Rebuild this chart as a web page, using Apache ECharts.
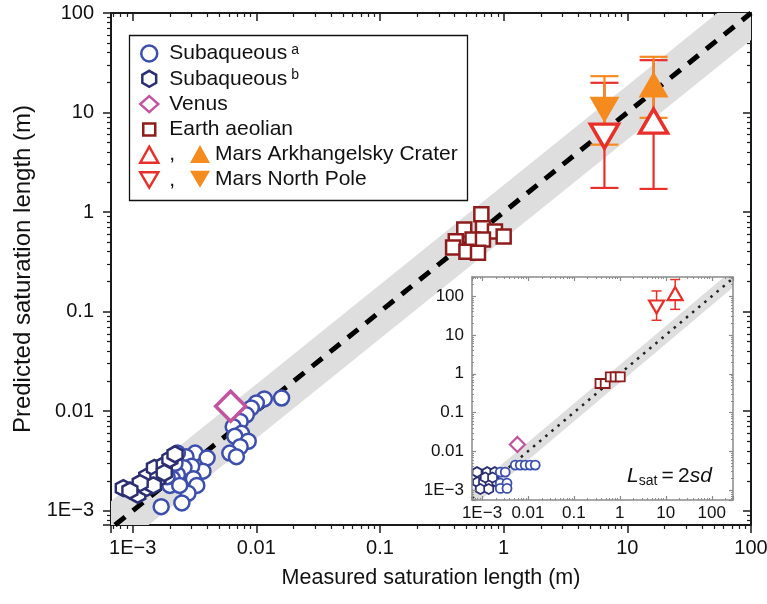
<!DOCTYPE html>
<html><head><meta charset="utf-8">
<script src="https://cdn.jsdelivr.net/npm/echarts@6/dist/echarts.min.js"></script>
<style>html,body{margin:0;padding:0;background:#fff}#c{width:767px;height:604px}</style>
</head><body><div id="c"></div>
<script>
// ---------------- data ----------------
const tickLabels = ['1E\u22123', '0.01', '0.1', '1', '10', '100'];
const tickExps = [-3, -2, -1, 0, 1, 2];

const subaqueousA = [[0.016,0.0136],[0.0116,0.0133],[0.0100,0.0121],[0.0091,0.0108],[0.0083,0.0092],[0.0074,0.0079],[0.0065,0.0070],[0.0076,0.0060],[0.0067,0.0056],[0.0086,0.0050],[0.0074,0.0044],[0.0061,0.0038],[0.0069,0.0035],
  [0.0032,0.0038],[0.0040,0.0034],[0.0027,0.0035],[0.0023,0.0038],[0.0037,0.0025],[0.0030,0.0028],[0.0026,0.0027],[0.0023,0.0023],[0.0031,0.0021],[0.0033,0.0018],[0.0028,0.0015],[0.0025,0.0012],[0.0017,0.0011],[0.0021,0.0021],[0.0020,0.0018],[0.0024,0.0018],[0.0022,0.0030],[0.0019,0.0022]];
const subaqueousB = [[0.00084,0.00169],[0.0011,0.00145],[0.0013,0.0017],[0.0013,0.0022],[0.0015,0.0027],[0.0016,0.0021],[0.0018,0.0029],[0.0020,0.0033],[0.0022,0.0037],[0.00147,0.0018],[0.00115,0.0019],[0.0018,0.0024],[0.00095,0.0016]];
const venus = [[0.0062,0.0112]];
const earthAeolian = [[0.66,0.95],[0.48,0.67],[0.68,0.69],[0.85,0.64],[1.0,0.57],[0.41,0.51],[0.56,0.53],[0.68,0.53],[0.39,0.44],[0.50,0.40],[0.62,0.39]];
const arkOpen = [[16.3,8.2]];
const arkFilled = [[16.3,19.1]];
const npOpen = [[6.53,5.8]];
const npFilled = [[6.53,10.7]];
// [x, low, high]
const arkOpenErr = [[16.3,1.71,33.6]];
const arkFilledErr = [[16.3,8.85,36.3]];
const npOpenErr = [[6.53,1.75,19.9]];
const npFilledErr = [[6.53,4.76,23.2]];

// inset (L_sat = 2sd)
const insetSubA = [[0.0025,0.0029],[0.0032,0.0029],[0.0025,0.0015],[0.0035,0.0015],[0.0025,0.0011],[0.0035,0.0011],[0.0053,0.0044],[0.0068,0.0044],[0.0087,0.0044],[0.0112,0.0044],[0.0144,0.0044]];
const insetSubB = [[0.00078,0.0029],[0.0013,0.0029],[0.0019,0.0029],[0.0008,0.0016],[0.00108,0.0016],[0.0015,0.0016],[0.0021,0.0016],[0.00092,0.00106],[0.0014,0.00106],[0.00118,0.0021],[0.0017,0.0021]];
const insetVenus = [[0.0059,0.015]];
const insetEarth = [[0.37,0.56],[0.48,0.56],[0.62,0.83],[0.79,0.83],[1.02,0.83]];
const insetArk = [[16,117]];
const insetNP = [[6.3,53]];
const insetArkErr = [[16,46,270]];
const insetNPErr = [[6.3,24,137]];

// ---------------- setup ----------------
const MX = [6.68e-4, 100], MY = [7.2e-4, 100];
const IX = [6.06e-4, 290], IY = [5.52e-4, 314];
const BAND_MAIN = 1.87, BAND_INSET = 1.7;

const C = {blue:'#3d4fad', navy:'#2b2e70', venus:'#c2549f', earth:'#8e1c1c', red:'#e8302a', orange:'#f58b1f', band:'#dedede'};
const FONT = "'Liberation Sans', Arial, Helvetica, sans-serif";
const HEX = 'path://M5,0L9.33,2.5L9.33,7.5L5,10L0.67,7.5L0.67,2.5Z';
const DOWN = 'path://M0,0L20,0L10,17Z';

function fmt(v) {
  const l = Math.log10(v), r = Math.round(l);
  if (Math.abs(l - r) > 1e-6) return '';
  const i = tickExps.indexOf(r);
  return i < 0 ? '' : tickLabels[i];
}
function bandPoly(X, Y, k) {
  return [[X[0], Y[0]], [X[0], X[0]*k], [Y[1]/k, Y[1]], [X[1], Y[1]], [X[1], X[1]/k], [Y[0]*k, Y[0]]];
}
function bandSeries(xi, yi, pts, z) {
  return {type:'custom', xAxisIndex:xi, yAxisIndex:yi, z, silent:true, data:[[1,1]],
    renderItem:(p, api) => ({type:'polygon', shape:{points: pts.map(q => api.coord(q))}, style:{fill:C.band}})};
}
function errSeries(data, color, xi, yi, cap, lw, z) {
  return {type:'custom', xAxisIndex:xi, yAxisIndex:yi, z, silent:true, data, encode:{x:0, y:[1,2]},
    renderItem(p, api) {
      const x = api.value(0), a = api.coord([x, api.value(1)]), b = api.coord([x, api.value(2)]), h = cap/2;
      const st = {stroke:color, lineWidth:lw};
      return {type:'group', children:[
        {type:'line', shape:{x1:a[0], y1:a[1], x2:b[0], y2:b[1]}, style:st},
        {type:'line', shape:{x1:a[0]-h, y1:a[1], x2:a[0]+h, y2:a[1]}, style:st},
        {type:'line', shape:{x1:b[0]-h, y1:b[1], x2:b[0]+h, y2:b[1]}, style:st}]};
    }};
}
function sc(name, data, symbol, size, fill, stroke, bw, xi, yi, z) {
  return {type:'scatter', name, data, symbol, symbolSize:size, xAxisIndex:xi, yAxisIndex:yi, z, silent:true,
    itemStyle:{color:fill, borderColor:stroke, borderWidth:bw, opacity:1}};
}
function logAxis(grid, ext, pos, opts) {
  const col = opts.color;
  return {type:'log', logBase:10, gridIndex:grid, min:ext[0], max:ext[1], position:pos, z:opts.z || 0,
    axisLine:{show:true, onZero:false, lineStyle:{color:col, width:opts.lw}},
    axisTick:{show:true, inside:opts.inside, length:opts.tl, lineStyle:{color:col, width:opts.tw}},
    minorTick:{show:true, splitNumber:9, length:opts.ml, lineStyle:{color:col, width:opts.tw*0.8}},
    splitLine:{show:false}, minorSplitLine:{show:false},
    axisLabel:{show:opts.label, formatter:fmt, fontSize:opts.fs, color:'#111', fontFamily:FONT, margin:opts.margin, showMinLabel:true, showMaxLabel:true},
    name:opts.name || '', nameLocation:'middle', nameGap:opts.nameGap || 0,
    nameTextStyle:{fontSize:opts.nfs || 20, color:'#111', fontFamily:FONT}};
}

const mainOut = {color:'#1a1a1a', lw:2, inside:false, tl:8, ml:4, tw:1.5, label:true, fs:20, margin:14};
const mainIn = Object.assign({}, mainOut, {inside:true, label:false});
const insOut = {color:'#8a8a8a', lw:1.5, inside:true, tl:4, ml:2, tw:1.2, label:true, fs:17, margin:6, z:20};
const insIn = Object.assign({}, insOut, {label:false});

const chart = echarts.init(document.getElementById('c'), null, {renderer:'canvas'});
chart.setOption({
  animation:false,
  backgroundColor:'#fff',
  textStyle:{fontFamily:FONT},
  grid:[
    {left:111, right:16, top:13, bottom:79, containLabel:false, outerBoundsMode:'none'},
    {left:472, right:34, top:277, bottom:104, containLabel:false, outerBoundsMode:'none', show:true, backgroundColor:'#fff', borderWidth:0, z:8}
  ],
  xAxis:[
    logAxis(0, MX, 'bottom', Object.assign({}, mainOut, {name:'Measured saturation length (m)', nameGap:42, nfs:21.5, margin:13})),
    logAxis(0, MX, 'top', mainIn),
    logAxis(1, IX, 'bottom', Object.assign({}, insOut, {margin:5})),
    logAxis(1, IX, 'top', insIn)
  ],
  yAxis:[
    logAxis(0, MY, 'left', Object.assign({}, mainOut, {name:'Predicted saturation length (m)', nameGap:76, nfs:24, margin:17})),
    logAxis(0, MY, 'right', mainIn),
    logAxis(1, IY, 'left', Object.assign({}, insOut, {margin:8})),
    logAxis(1, IY, 'right', insIn)
  ],
  legend:[
    {orient:'vertical', left:139, top:43, itemWidth:18, itemHeight:16, itemGap:4.3, padding:0, z:10, selectedMode:false,
     data:[
       {name:'Subaqueous a', itemStyle:{borderWidth:2.5}},
       {name:'Subaqueous b', itemStyle:{borderWidth:2.5}},
       {name:'Venus', itemStyle:{borderWidth:2.5}},
       {name:'Earth aeolian', itemStyle:{borderWidth:2.5}, icon:'path://M0,0M2,2L14,2L14,14L2,14ZM16,16'},
       {name:'Mars Arkhangelsky Crater (open)', itemStyle:{borderWidth:2.5}},
       {name:'Mars North Pole (open)', itemStyle:{borderWidth:2.5}, icon:DOWN}
     ],
     formatter:n => n === 'Subaqueous a' ? 'Subaqueous{sup|a}' : n === 'Subaqueous b' ? 'Subaqueous{sup|b}' : n.indexOf('(open)') > 0 ? ',' : n,
     textStyle:{fontSize:21, color:'#111', fontFamily:FONT, padding:[0,0,0,6],
       rich:{sup:{fontSize:14, verticalAlign:'top', padding:[0,0,6,4], color:'#111', fontFamily:FONT}}}},
    {orient:'vertical', left:190, top:143.5, itemWidth:20, itemHeight:18, itemGap:4.3, padding:0, z:10, selectedMode:false,
     data:[{name:'Mars Arkhangelsky Crater', itemStyle:{borderWidth:0}}, {name:'Mars North Pole', itemStyle:{borderWidth:0}, icon:DOWN}],
     textStyle:{fontSize:21, color:'#111', fontFamily:FONT}}
  ],
  graphic:[
    {type:'rect', z:2, shape:{x:129.5, y:35.5, width:338, height:165}, style:{fill:'#fff', stroke:'#111', lineWidth:1.3}},
    {type:'text', z:50, left:627, top:466, style:{text:'{i|L}{s|sat}{n|\u2009=\u20092}{i|sd}', fill:'#111',
      rich:{i:{fontSize:21, fontStyle:'italic', fontFamily:FONT, fill:'#111'}, s:{fontSize:14, fontFamily:FONT, padding:[9,0,0,0], fill:'#111'}, n:{fontSize:21, fontFamily:FONT, fill:'#111'}}}}
  ],
  series:[
    bandSeries(0, 0, bandPoly(MX, MY, BAND_MAIN), 1),
    {type:'line', xAxisIndex:0, yAxisIndex:0, z:2, silent:true, symbol:'none', data:[[MY[0],MY[0]],[MX[1],MX[1]]],
     lineStyle:{color:'#000', width:5, type:[13,10]}},
    sc('Subaqueous a', subaqueousA, 'circle', 15, '#fff', C.blue, 2.5, 0, 0, 3),
    sc('Subaqueous b', subaqueousB, HEX, [15,16], '#fff', C.navy, 2.5, 0, 0, 3),
    sc('Venus', venus, 'diamond', 30, '#fff', C.venus, 3.5, 0, 0, 3),
    sc('Earth aeolian', earthAeolian, 'rect', 14, '#fff', C.earth, 2.5, 0, 0, 3),
    errSeries(arkOpenErr, C.red, 0, 0, 28, 2.2, 4),
    errSeries(npOpenErr, C.red, 0, 0, 28, 2.2, 4),
    errSeries(arkFilledErr, C.orange, 0, 0, 28, 2.2, 4),
    errSeries(npFilledErr, C.orange, 0, 0, 28, 2.2, 4),
    sc('Mars Arkhangelsky Crater (open)', arkOpen, 'triangle', [28,24], '#fff', C.red, 3.5, 0, 0, 5),
    sc('Mars North Pole (open)', npOpen, DOWN, [28,24], '#fff', C.red, 3.5, 0, 0, 5),
    sc('Mars Arkhangelsky Crater', arkFilled, 'triangle', [30,26], C.orange, C.orange, 0, 0, 0, 6),
    sc('Mars North Pole', npFilled, DOWN, [30,26], C.orange, C.orange, 0, 0, 0, 6),
    // inset
    bandSeries(2, 2, bandPoly(IX, IY, BAND_INSET), 11),
    {type:'line', xAxisIndex:2, yAxisIndex:2, z:12, silent:true, symbol:'none', data:[[IX[0],IX[0]],[IX[1],IX[1]]],
     lineStyle:{color:'#222', width:2.5, type:[2.5,5.5]}},
    sc('i-sub-b', insetSubB, HEX, [9,10], '#fff', C.navy, 1.8, 2, 2, 13),
    sc('i-sub-a', insetSubA, 'circle', 9, '#fff', C.blue, 1.8, 2, 2, 13),
    sc('i-venus', insetVenus, 'diamond', 15, '#fff', C.venus, 2.2, 2, 2, 13),
    sc('i-earth', insetEarth, 'rect', 9, '#fff', C.earth, 1.8, 2, 2, 13),
    errSeries(insetArkErr, C.red, 2, 2, 10, 1.5, 13),
    errSeries(insetNPErr, C.red, 2, 2, 10, 1.5, 13),
    sc('i-ark', insetArk, 'triangle', [15,13], '#fff', C.red, 2.2, 2, 2, 14),
    sc('i-np', insetNP, DOWN, [15,13], '#fff', C.red, 2.2, 2, 2, 14)
  ]
});
</script></body></html>
